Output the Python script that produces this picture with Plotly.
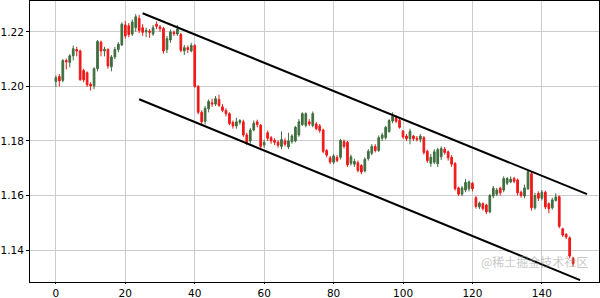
import plotly.graph_objects as go

# ---- data ----
idx = list(range(150))
opens = [1.2018,1.2036,1.2022,1.2095,1.2088,1.2112,1.2135,1.2130,1.2058,1.2050,
         1.2008,1.2002,1.2065,1.2162,1.2130,1.2135,1.2072,1.2108,1.2135,1.2152,
         1.2225,1.2222,1.2192,1.2215,1.2250,1.2215,1.2200,1.2203,1.2192,1.2228,
         1.2218,1.2212,1.2135,1.2170,1.2198,1.2192,1.2190,1.2130,1.2142,1.2130,
         1.2150,1.2000,1.1905,1.1872,1.1918,1.1940,1.1935,1.1952,1.1925,1.1912,
         1.1900,1.1868,1.1855,1.1868,1.1870,1.1822,1.1800,1.1840,1.1870,1.1858,
         1.1785,1.1830,1.1812,1.1802,1.1796,1.1780,1.1800,1.1778,1.1798,1.1800,
         1.1822,1.1860,1.1857,1.1870,1.1857,1.1862,1.1855,1.1840,1.1765,1.1738,
         1.1722,1.1740,1.1740,1.1798,1.1795,1.1718,1.1715,1.1720,1.1710,1.1690,
         1.1735,1.1755,1.1780,1.1765,1.1810,1.1812,1.1835,1.1873,1.1885,1.1875,
         1.1836,1.1818,1.1808,1.1818,1.1810,1.1806,1.1812,1.1762,1.1718,1.1722,
         1.1716,1.1742,1.1770,1.1760,1.1740,1.1718,1.1628,1.1605,1.1620,1.1625,
         1.1645,1.1592,1.1558,1.1570,1.1565,1.1540,1.1598,1.1605,1.1627,1.1620,
         1.1645,1.1650,1.1662,1.1657,1.1612,1.1598,1.1625,1.1680,1.1555,1.1608,
         1.1590,1.1612,1.1570,1.1555,1.1582,1.1596,1.1478,1.1458,1.1445,1.1370]
closes = [1.2032,1.2020,1.2095,1.2090,1.2112,1.2138,1.2130,1.2025,1.2024,1.2006,
          1.2002,1.2065,1.2165,1.2130,1.2136,1.2075,1.2108,1.2135,1.2155,1.2228,
          1.2185,1.2190,1.2236,1.2255,1.2205,1.2198,1.2205,1.2198,1.2215,1.2220,
          1.2212,1.2130,1.2175,1.2200,1.2193,1.2210,1.2132,1.2142,1.2135,1.2150,
          1.2000,1.1905,1.1870,1.1920,1.1945,1.1935,1.1955,1.1930,1.1912,1.1900,
          1.1864,1.1855,1.1870,1.1875,1.1822,1.1795,1.1840,1.1865,1.1860,1.1780,
          1.1795,1.1810,1.1800,1.1795,1.1784,1.1805,1.1788,1.1800,1.1818,1.1850,
          1.1870,1.1900,1.1900,1.1862,1.1900,1.1845,1.1838,1.1762,1.1748,1.1723,
          1.1745,1.1728,1.1802,1.1780,1.1712,1.1742,1.1725,1.1692,1.1686,1.1733,
          1.1762,1.1780,1.1765,1.1812,1.1822,1.1850,1.1875,1.1890,1.1872,1.1850,
          1.1815,1.1808,1.1835,1.1808,1.1806,1.1818,1.1758,1.1728,1.1740,1.1760,
          1.1768,1.1772,1.1758,1.1738,1.1715,1.1625,1.1605,1.1628,1.1648,1.1650,
          1.1625,1.1560,1.1572,1.1552,1.1540,1.1600,1.1627,1.1620,1.1610,1.1662,
          1.1662,1.1660,1.1652,1.1610,1.1600,1.1628,1.1687,1.1555,1.1600,1.1590,
          1.1612,1.1558,1.1552,1.1584,1.1595,1.1487,1.1455,1.1448,1.1378,1.1350]
highs = [1.2040,1.2045,1.2100,1.2102,1.2118,1.2150,1.2145,1.2135,1.2065,1.2055,
         1.2015,1.2070,1.2170,1.2168,1.2145,1.2140,1.2115,1.2145,1.2162,1.2235,
         1.2240,1.2232,1.2245,1.2265,1.2262,1.2228,1.2215,1.2210,1.2225,1.2238,
         1.2225,1.2218,1.2185,1.2208,1.2205,1.2225,1.2196,1.2152,1.2150,1.2160,
         1.2155,1.2005,1.1912,1.1928,1.1952,1.1955,1.1965,1.1970,1.1935,1.1920,
         1.1905,1.1875,1.1885,1.1880,1.1878,1.1830,1.1848,1.1875,1.1878,1.1862,
         1.1805,1.1838,1.1818,1.1810,1.1802,1.1835,1.1810,1.1830,1.1825,1.1855,
         1.1880,1.1905,1.1905,1.1880,1.1908,1.1870,1.1862,1.1845,1.1770,1.1745,
         1.1752,1.1748,1.1808,1.1805,1.1800,1.1750,1.1735,1.1728,1.1715,1.1740,
         1.1770,1.1788,1.1788,1.1820,1.1830,1.1855,1.1880,1.1905,1.1893,1.1882,
         1.1840,1.1825,1.1845,1.1822,1.1818,1.1825,1.1818,1.1768,1.1752,1.1770,
         1.1775,1.1780,1.1778,1.1765,1.1748,1.1722,1.1632,1.1635,1.1660,1.1655,
         1.1650,1.1598,1.1578,1.1575,1.1570,1.1606,1.1635,1.1628,1.1632,1.1670,
         1.1668,1.1670,1.1668,1.1662,1.1618,1.1640,1.1695,1.1690,1.1610,1.1615,
         1.1620,1.1618,1.1575,1.1592,1.1608,1.1600,1.1482,1.1462,1.1450,1.1375]
lows = [1.1998,1.2000,1.2015,1.2062,1.2070,1.2095,1.2110,1.2020,1.2015,1.1998,
        1.1985,1.1990,1.2055,1.2110,1.2110,1.2065,1.2055,1.2100,1.2125,1.2148,
        1.2175,1.2180,1.2185,1.2200,1.2195,1.2185,1.2180,1.2178,1.2185,1.2210,
        1.2200,1.2120,1.2122,1.2160,1.2185,1.2185,1.2125,1.2115,1.2122,1.2125,
        1.1995,1.1898,1.1860,1.1860,1.1905,1.1925,1.1928,1.1925,1.1905,1.1890,
        1.1858,1.1845,1.1845,1.1860,1.1815,1.1785,1.1790,1.1835,1.1850,1.1775,
        1.1775,1.1800,1.1790,1.1785,1.1775,1.1770,1.1780,1.1770,1.1790,1.1795,
        1.1815,1.1855,1.1850,1.1855,1.1850,1.1840,1.1830,1.1755,1.1740,1.1715,
        1.1715,1.1722,1.1732,1.1772,1.1705,1.1710,1.1705,1.1685,1.1678,1.1685,
        1.1728,1.1748,1.1758,1.1760,1.1800,1.1805,1.1830,1.1865,1.1865,1.1845,
        1.1808,1.1800,1.1788,1.1800,1.1798,1.1795,1.1750,1.1720,1.1705,1.1715,
        1.1705,1.1730,1.1750,1.1728,1.1705,1.1618,1.1598,1.1598,1.1612,1.1615,
        1.1615,1.1552,1.1550,1.1545,1.1532,1.1535,1.1590,1.1598,1.1600,1.1612,
        1.1638,1.1645,1.1645,1.1600,1.1592,1.1590,1.1620,1.1545,1.1548,1.1580,
        1.1582,1.1550,1.1535,1.1548,1.1578,1.1480,1.1448,1.1440,1.1370,1.1340]

upper_x = [25, 153]
upper_y = [1.2268, 1.1605]
lower_x = [24, 151]
lower_y = [1.1953, 1.1290]

x_ticks = [0, 20, 40, 60, 80, 100, 120, 140]
y_ticks = [1.14, 1.16, 1.18, 1.20, 1.22]
y_tick_text = ["1.14", "1.16", "1.18", "1.20", "1.22"]

GREEN = "#3f6e3f"
RED = "#f01818"

fig = go.Figure()
fig.add_trace(go.Candlestick(
    x=idx, open=opens, high=highs, low=lows, close=closes,
    increasing=dict(line=dict(color=GREEN, width=1), fillcolor=GREEN),
    decreasing=dict(line=dict(color=RED, width=1), fillcolor=RED),
    whiskerwidth=0, showlegend=False, hoverinfo="skip"))
fig.add_trace(go.Scatter(x=upper_x, y=upper_y, mode="lines",
                         line=dict(color="black", width=2), showlegend=False))
fig.add_trace(go.Scatter(x=lower_x, y=lower_y, mode="lines",
                         line=dict(color="black", width=2), showlegend=False))

fig.add_annotation(text="@稀土掘金技术社区", xref="paper", yref="paper",
                   x=0.985, y=0.035, xanchor="right", yanchor="bottom",
                   showarrow=False,
                   font=dict(family="Noto Sans CJK SC", size=12, color="rgba(150,150,150,0.55)"))

axis_common = dict(showgrid=True, gridcolor="#cccccc", gridwidth=1,
                   showline=True, linecolor="black", linewidth=1, mirror=True,
                   tickcolor="black", zeroline=False, automargin=False,
                   tickfont=dict(family="DejaVu Sans", size=10.5, color="black"))

fig.update_layout(
    width=600, height=298,
    margin=dict(l=30, r=1, t=1, b=16),
    plot_bgcolor="white", paper_bgcolor="white",
    xaxis=dict(range=[-7.45, 156.45], tickvals=x_ticks, ticks="outside", ticklen=1,
               rangeslider=dict(visible=False), **axis_common),
    yaxis=dict(range=[1.1283, 1.2313], tickvals=y_ticks, ticktext=y_tick_text,
               ticks="outside", ticklen=3, **axis_common),
    boxgap=0.3,
)

fig.write_html("out.html")
